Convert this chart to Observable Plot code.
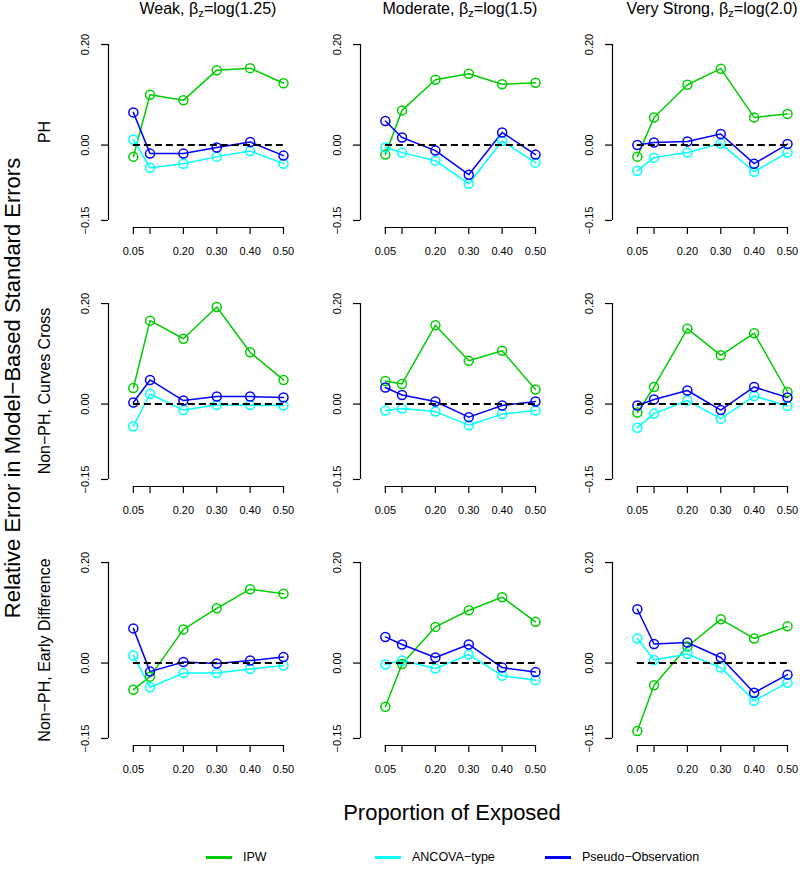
<!DOCTYPE html>
<html><head><meta charset="utf-8">
<script src="https://cdn.jsdelivr.net/npm/d3@7"></script>
<script src="https://cdn.jsdelivr.net/npm/@observablehq/plot@0.6"></script>
<style>
body{margin:0;background:#fff;font-family:"Liberation Sans",Arial,Helvetica,sans-serif;}
#wrap{position:relative;width:800px;height:876px;overflow:hidden;background:#fff}
#wrap svg{position:absolute;left:0;top:0}
.lab{position:absolute;white-space:nowrap;color:#000;line-height:1;transform:translate(-50%,-50%)}
.rot{transform:translate(-50%,-50%) rotate(-90deg)}
.lab sub{font-size:0.72em;vertical-align:-0.3em;line-height:0}
.leg{position:absolute;display:flex;align-items:center;font-size:12.5px;transform:translateY(-50%)}
.leg span.sw{display:inline-block;width:26px;height:3px;margin-right:11px}
</style></head><body><div id="wrap"></div>
<script>
// ---- data ----
const proportions = [0.05, 0.10, 0.20, 0.30, 0.40, 0.50];
const xTickLabels = ["0.05", "", "0.20", "0.30", "0.40", "0.50"];
const yTicks = [-0.15, 0, 0.20];
const yTickLabels = ["\u22120.15", "0.00", "0.20"];
const strengths = ["Weak", "Moderate", "Very Strong"];
const strengthBetas = ["log(1.25)", "log(1.5)", "log(2.0)"];
const scenarios = ["PH", "Non\u2212PH, Curves Cross", "Non\u2212PH, Early Difference"];
const methods = ["IPW", "ANCOVA\u2212type", "Pseudo\u2212Observation"];
const methodColors = ["#00CD00", "#00FFFF", "#0000FF"];

// each array: rows = [Weak, Moderate, Very Strong], columns = proportions
const ipwPH = [
  [-0.023, 0.100, 0.089, 0.149, 0.153, 0.123],
  [-0.019, 0.069, 0.130, 0.142, 0.121, 0.124],
  [-0.023, 0.055, 0.120, 0.152, 0.055, 0.062]];
const ancovaPH = [
  [0.011, -0.045, -0.037, -0.023, -0.012, -0.037],
  [-0.005, -0.015, -0.031, -0.077, 0.008, -0.035],
  [-0.051, -0.025, -0.015, 0.003, -0.053, -0.015]];
const pseudoPH = [
  [0.065, -0.017, -0.017, -0.005, 0.006, -0.021],
  [0.048, 0.015, -0.011, -0.059, 0.025, -0.019],
  [0.000, 0.005, 0.007, 0.022, -0.037, 0.002]];
const ipwCross = [
  [0.032, 0.166, 0.130, 0.193, 0.103, 0.048],
  [0.046, 0.040, 0.157, 0.086, 0.106, 0.029],
  [-0.017, 0.034, 0.150, 0.097, 0.141, 0.024]];
const ancovaCross = [
  [-0.044, 0.020, -0.012, -0.002, -0.002, -0.003],
  [-0.013, -0.009, -0.015, -0.042, -0.020, -0.013],
  [-0.047, -0.019, 0.007, -0.029, 0.016, -0.004]];
const pseudoCross = [
  [0.003, 0.048, 0.007, 0.015, 0.015, 0.013],
  [0.033, 0.018, 0.005, -0.026, -0.003, 0.005],
  [-0.003, 0.009, 0.027, -0.012, 0.034, 0.013]];
const ipwEarly = [
  [-0.053, -0.027, 0.067, 0.109, 0.147, 0.138],
  [-0.087, -0.002, 0.072, 0.105, 0.131, 0.082],
  [-0.135, -0.044, 0.033, 0.087, 0.049, 0.073]];
const ancovaEarly = [
  [0.015, -0.048, -0.020, -0.020, -0.012, -0.005],
  [-0.003, 0.005, -0.011, 0.017, -0.025, -0.034],
  [0.049, 0.006, 0.018, -0.009, -0.075, -0.039]];
const pseudoEarly = [
  [0.069, -0.017, 0.002, -0.001, 0.005, 0.012],
  [0.052, 0.037, 0.011, 0.037, -0.009, -0.018],
  [0.107, 0.038, 0.041, 0.011, -0.059, -0.023]];

const bySeries = [
  [ipwPH, ancovaPH, pseudoPH],
  [ipwCross, ancovaCross, pseudoCross],
  [ipwEarly, ancovaEarly, pseudoEarly]];

const rows = [];
scenarios.forEach((sc, si) => methods.forEach((m, mi) => strengths.forEach((st, ci) =>
  proportions.forEach((p, pi) => rows.push({scenario: sc, strength: st, method: m, p, v: bySeries[si][mi][ci][pi]})))));

// ---- layout ----
const xDomain = [-0.0245, 0.518];
const yDomain = [-0.164, 0.214];
const FONT = '"Liberation Sans", Arial, Helvetica, sans-serif';

const plot = Plot.plot({
  width: 800, height: 876,
  marginLeft: 107, marginRight: 5, marginTop: 36, marginBottom: 131,
  style: {fontFamily: FONT, fontSize: "11px", background: "transparent", color: "#000"},
  fx: {domain: strengths, paddingInner: 0.2806, paddingOuter: 0, axis: null},
  fy: {domain: scenarios, paddingInner: 0.2678, paddingOuter: 0, axis: null},
  x: {domain: xDomain, label: null},
  y: {domain: yDomain, label: null},
  color: {domain: methods, range: methodColors},
  marks: [
    Plot.axisX(proportions, {tickSize: 7, tickPadding: 13, strokeWidth: 1.2, label: null,
      tickFormat: d => xTickLabels[proportions.indexOf(d)], facetAnchor: null, fontSize: 11}),
    Plot.axisY(yTicks, {tickSize: 7, tickRotate: -90, tickPadding: 13, strokeWidth: 1.2, label: null,
      tickFormat: d => yTickLabels[yTicks.indexOf(d)], facetAnchor: null, fontSize: 11}),
    Plot.ruleX([xDomain[0]], {y1: yTicks[0], y2: yTicks[yTicks.length - 1], stroke: "#000", strokeWidth: 1.2}),
    Plot.ruleY([yDomain[0]], {x1: proportions[0], x2: proportions[proportions.length - 1], stroke: "#000", strokeWidth: 1.2}),
    Plot.line(rows, {x: "p", y: "v", z: "method", stroke: "method", fx: "strength", fy: "scenario", strokeWidth: 1.5}),
    Plot.dot(rows, {x: "p", y: "v", stroke: "method", fx: "strength", fy: "scenario", r: 4.5, strokeWidth: 1.5, fill: "none"}),
    Plot.ruleY([0], {x1: proportions[0], x2: proportions[proportions.length - 1], stroke: "#000", strokeWidth: 2, strokeDasharray: "7,4"})
  ]
});

const wrap = document.getElementById("wrap");
wrap.appendChild(plot);

const fxS = plot.scale("fx"), fyS = plot.scale("fy");
const bw = fxS.bandwidth, bh = fyS.bandwidth;
const xPix = v => (v - xDomain[0]) / (xDomain[1] - xDomain[0]) * bw;
const titleX = (xDomain[1] + proportions[0] - 0.018) / 2;

function addLabel(html, x, y, size, rot) {
  const d = document.createElement("div");
  d.className = "lab" + (rot ? " rot" : "");
  d.style.left = x + "px"; d.style.top = y + "px"; d.style.fontSize = size + "px";
  d.innerHTML = html;
  wrap.appendChild(d);
}
strengths.forEach((s, i) => {
  addLabel(`${s}, \u03B2<sub>z</sub>=${strengthBetas[i]}`, fxS.apply(s) + xPix(titleX), 9, 16, false);
});
scenarios.forEach(s => addLabel(s, 45, fyS.apply(s) + bh / 2, 16, true));
addLabel("Relative Error in Model\u2212Based Standard Errors", 13, 388, 22, true);
addLabel("Proportion of Exposed", 452, 813, 22, false);

const legX = [206, 375, 545];
methods.forEach((m, i) => {
  const d = document.createElement("div");
  d.className = "leg";
  d.style.left = legX[i] + "px"; d.style.top = "857px";
  d.innerHTML = `<span class="sw" style="background:${methodColors[i]}"></span><span>${m}</span>`;
  wrap.appendChild(d);
});
</script></body></html>
